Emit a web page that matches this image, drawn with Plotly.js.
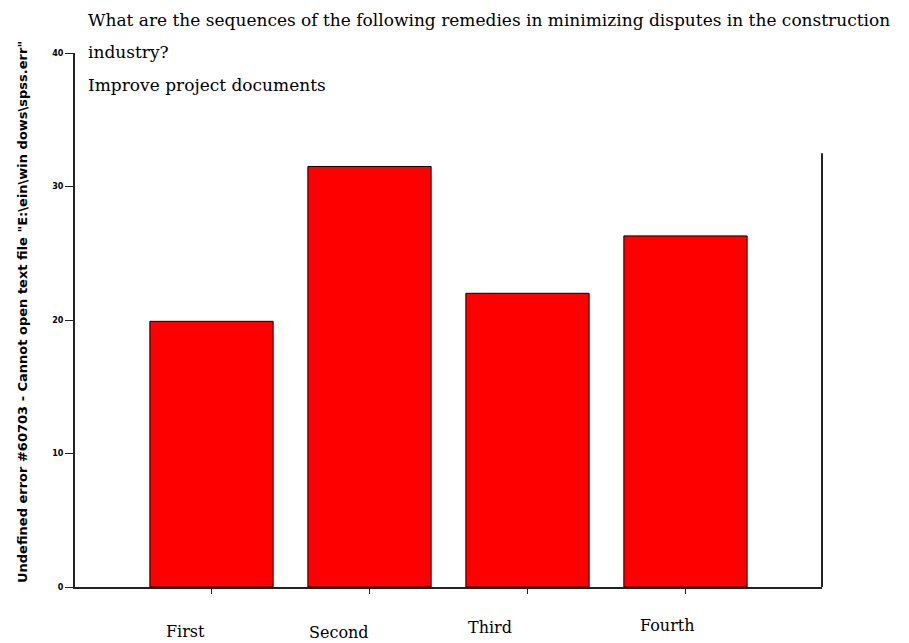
<!DOCTYPE html>
<html>
<head>
<meta charset="utf-8">
<script src="https://cdn.plot.ly/plotly-3.0.1.min.js"></script>
<style>html,body{margin:0;padding:0;background:#fff;}#chart{width:909px;height:643px;}</style>
</head>
<body>
<div id="chart"></div>
<script>
const categories = ["First", "Second", "Third", "Fourth"];
const percents = [19.9, 31.5, 22.0, 26.3];
const yTicks = [0, 10, 20, 30, 40];
const titleLines = [
  "What are the sequences of the following remedies in minimizing disputes in the construction",
  "industry?",
  "Improve project documents"
];
const yTitle = "Undefined error #60703 - Cannot open text file \"E:\\ein\\win dows\\spss.err\"";

const serif = "DejaVu Serif, Liberation Serif, serif";
const labelShift = [[-26, -44], [-31, -45], [-38, -40], [-18, -38]];

const annotations = [];
const titleY = [1.062, 1.002, 0.940];
titleLines.forEach((t, i) => annotations.push({
  text: t, xref: 'paper', yref: 'paper', x: 0.0174, xshift: -2, y: titleY[i],
  xanchor: 'left', yanchor: 'middle', showarrow: false,
  font: {family: serif, size: 17, color: '#000'}
}));
categories.forEach((c, i) => annotations.push({
  text: c, xref: 'x', yref: 'paper', x: c, y: 0,
  xshift: labelShift[i][0], yshift: labelShift[i][1],
  xanchor: 'center', yanchor: 'middle', showarrow: false,
  font: {family: serif, size: 16, color: '#000'}
}));
annotations.push({
  text: yTitle, xref: 'paper', yref: 'paper', x: 0, xshift: -53, y: 0.5, yshift: 8,
  textangle: -90, xanchor: 'center', yanchor: 'middle', showarrow: false,
  font: {family: 'DejaVu Sans, Arial, sans-serif', size: 13, color: '#000', weight: 'bold'}
});

const data = [{
  type: 'bar', x: categories, y: percents,
  marker: {color: '#ff0000', line: {color: '#000', width: 1}},
  width: 0.78, hoverinfo: 'none'
}];

const layout = {
  width: 909, height: 643,
  margin: {l: 75, r: 87, t: 53, b: 56},
  paper_bgcolor: '#fff', plot_bgcolor: '#fff',
  showlegend: false,
  xaxis: {
    type: 'category', range: [-0.864, 3.864],
    showgrid: false, zeroline: false,
    showline: true, linecolor: '#222', linewidth: 2,
    ticks: 'outside', ticklen: 5, tickcolor: '#222', tickwidth: 1,
    showticklabels: false
  },
  yaxis: {
    range: [0, 40], tickvals: yTicks, ticktext: yTicks.map(String),
    showgrid: false, zeroline: false,
    showline: true, linecolor: '#222', linewidth: 2,
    ticks: 'outside', ticklen: 8, tickcolor: '#222', tickwidth: 1,
    tickfont: {family: 'DejaVu Sans, sans-serif', size: 8, color: '#000', weight: 'bold'}
  },
  shapes: [{
    type: 'line', xref: 'paper', yref: 'y', x0: 1, x1: 1, y0: 0, y1: 32.5,
    line: {color: '#222', width: 2}
  }],
  annotations: annotations
};

Plotly.newPlot('chart', data, layout, {displayModeBar: false, staticPlot: true});
</script>
</body>
</html>
